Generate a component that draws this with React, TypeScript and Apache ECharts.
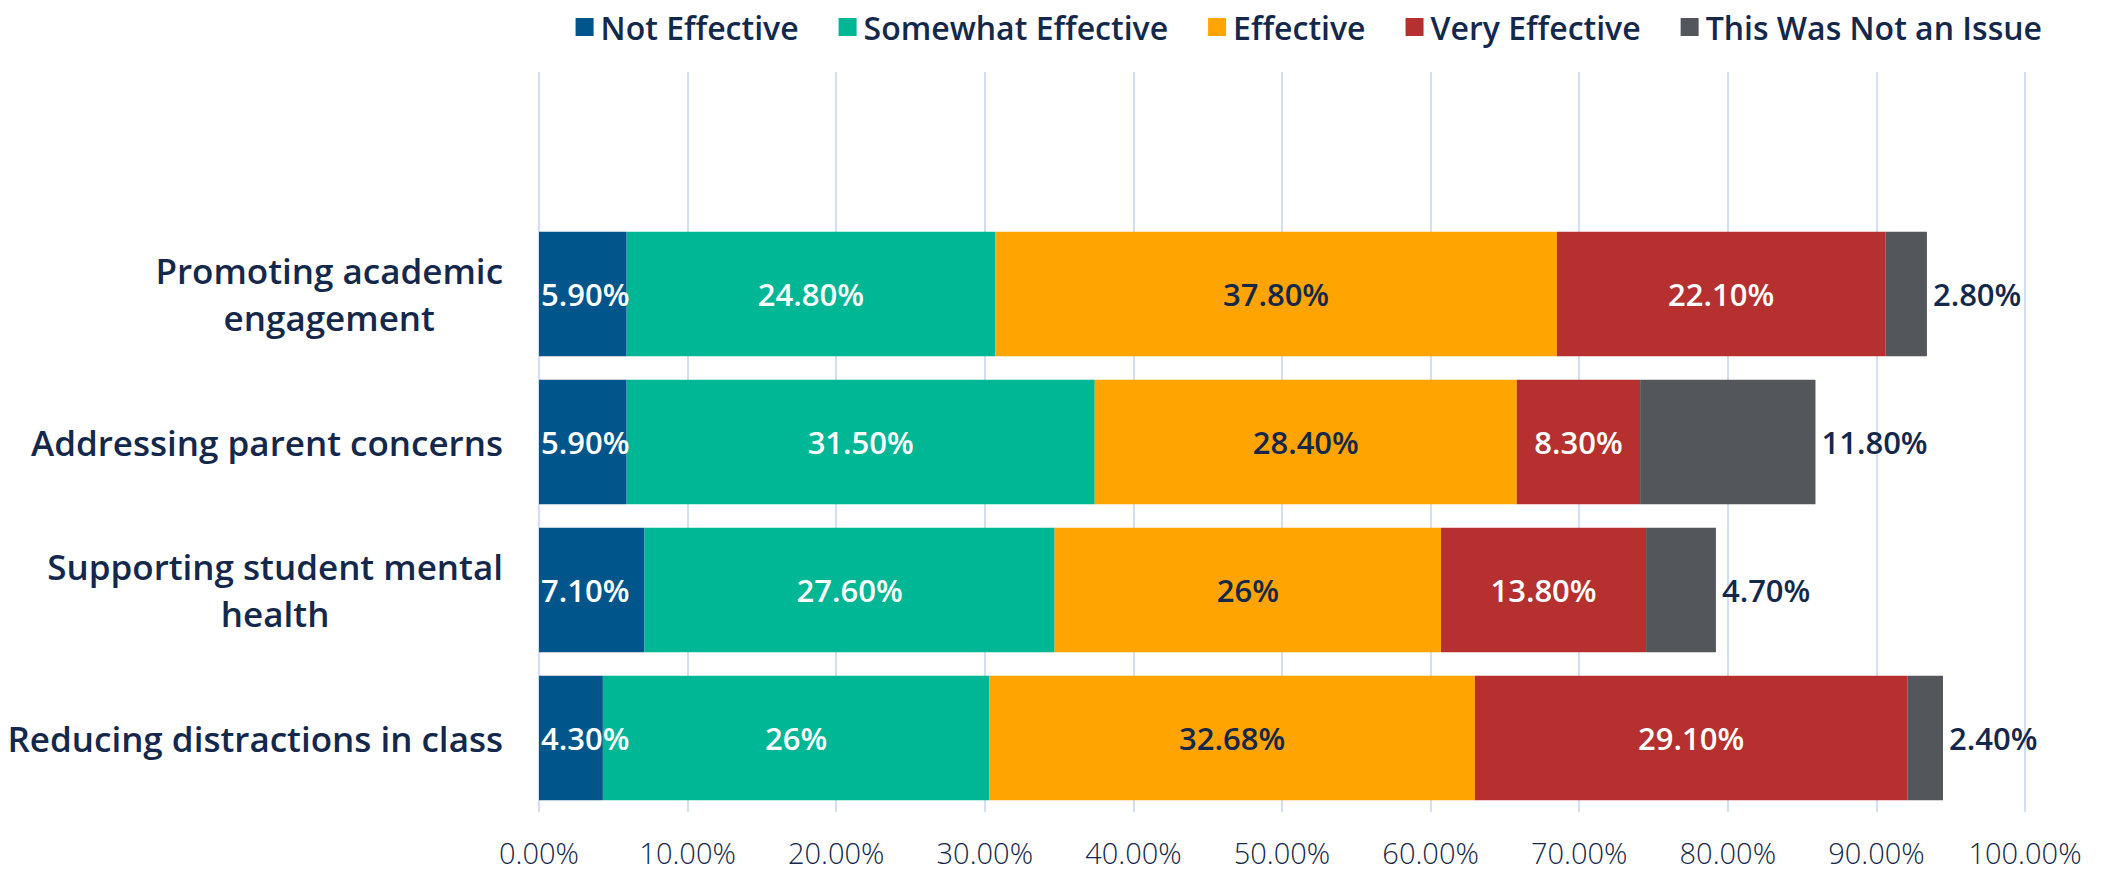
import React, { useEffect, useRef } from "react";
import * as echarts from "echarts";

// Categories, top to bottom (the first, empty one is the blank band above the bars)
const categories = [
  "",
  "Promoting academic\nengagement",
  "Addressing parent concerns",
  "Supporting student mental\nhealth",
  "Reducing distractions in class",
];

const seriesNames = [
  "Not Effective",
  "Somewhat Effective",
  "Effective",
  "Very Effective",
  "This Was Not an Issue",
];

// Values per series, in category order (top to bottom, excluding the blank band)
const notEffective = [5.9, 5.9, 7.1, 4.3];
const somewhatEffective = [24.8, 31.5, 27.6, 26];
const effective = [37.8, 28.4, 26, 32.68];
const veryEffective = [22.1, 8.3, 13.8, 29.1];
const notAnIssue = [2.8, 11.8, 4.7, 2.4];

const xTicks = [0, 10, 20, 30, 40, 50, 60, 70, 80, 90, 100];

const colors = ["#00558a", "#00b795", "#ffa400", "#b5302e", "#53565a"];
const labelColors = ["#ffffff", "#ffffff", "#14284b", "#ffffff", "#14284b"];
const NAVY = "#14284b";
const FONT = "'Open Sans', 'Noto Sans', sans-serif";

const fmt = (v: number) =>
  Number.isInteger(v) ? `${v}%` : `${v.toFixed(2)}%`;

export default function App() {
  const ref = useRef<HTMLDivElement>(null);

  useEffect(() => {
    if (!ref.current) return;
    const chart = echarts.init(ref.current, undefined, { renderer: "svg" });
    const allData = [notEffective, somewhatEffective, effective, veryEffective, notAnIssue];

    const series = allData.map((arr, i) => ({
      name: seriesNames[i],
      type: "bar" as const,
      stack: "total",
      barCategoryGap: "16%",
      data: [null, ...arr],
      itemStyle: { color: colors[i] },
      label: {
        show: true,
        position: i === 4 ? "right" : i === 0 ? "insideLeft" : "inside",
        distance: i === 0 ? 2 : 6,
        color: labelColors[i],
        fontFamily: FONT,
        fontSize: 31,
        fontWeight: 600,
        formatter: (p: any) => (p.value == null ? "" : fmt(p.value)),
      },
    }));

    chart.setOption({
      animation: false,
      textStyle: { fontFamily: FONT },
      legend: {
        top: 6,
        right: 60,
        itemWidth: 18,
        itemHeight: 18,
        itemGap: 40,
        icon: "rect",
        textStyle: {
          fontFamily: FONT,
          fontSize: 32,
          fontWeight: 600,
          color: NAVY,
          padding: [0, 0, 0, 2],
        },
        data: seriesNames,
      },
      grid: { left: 539, right: 82, top: 72, bottom: 62, containLabel: false },
      xAxis: {
        type: "value",
        min: xTicks[0],
        max: xTicks[xTicks.length - 1],
        interval: 10,
        axisLine: { show: false },
        axisTick: { show: false },
        splitLine: { show: true, lineStyle: { color: "#d2def2", width: 2 } },
        axisLabel: {
          margin: 25,
          fontFamily: FONT,
          fontSize: 29,
          lineHeight: 30,
          fontWeight: 300,
          color: NAVY,
          formatter: (v: number) => `${v.toFixed(2)}%`,
        },
      },
      yAxis: {
        type: "category",
        inverse: true,
        data: categories,
        axisLine: { show: false },
        axisTick: { show: false },
        axisLabel: {
          margin: 36,
          align: "right",
          fontFamily: FONT,
          fontSize: 35,
          fontWeight: 600,
          color: NAVY,
          lineHeight: 47,
          formatter: (v: string) =>
            v
              .split("\n")
              .map((s) => `{c|${s}}`)
              .join("\n"),
          rich: {
            c: {
              align: "center",
              fontFamily: FONT,
              fontSize: 35,
              fontWeight: 600,
              color: NAVY,
              lineHeight: 47,
            },
          },
        },
      },
      series,
    });

    return () => chart.dispose();
  }, []);

  return (
    <div
      ref={ref}
      style={{ position: "fixed", left: 0, top: 0, width: 2107, height: 874, background: "#fff" }}
    />
  );
}
